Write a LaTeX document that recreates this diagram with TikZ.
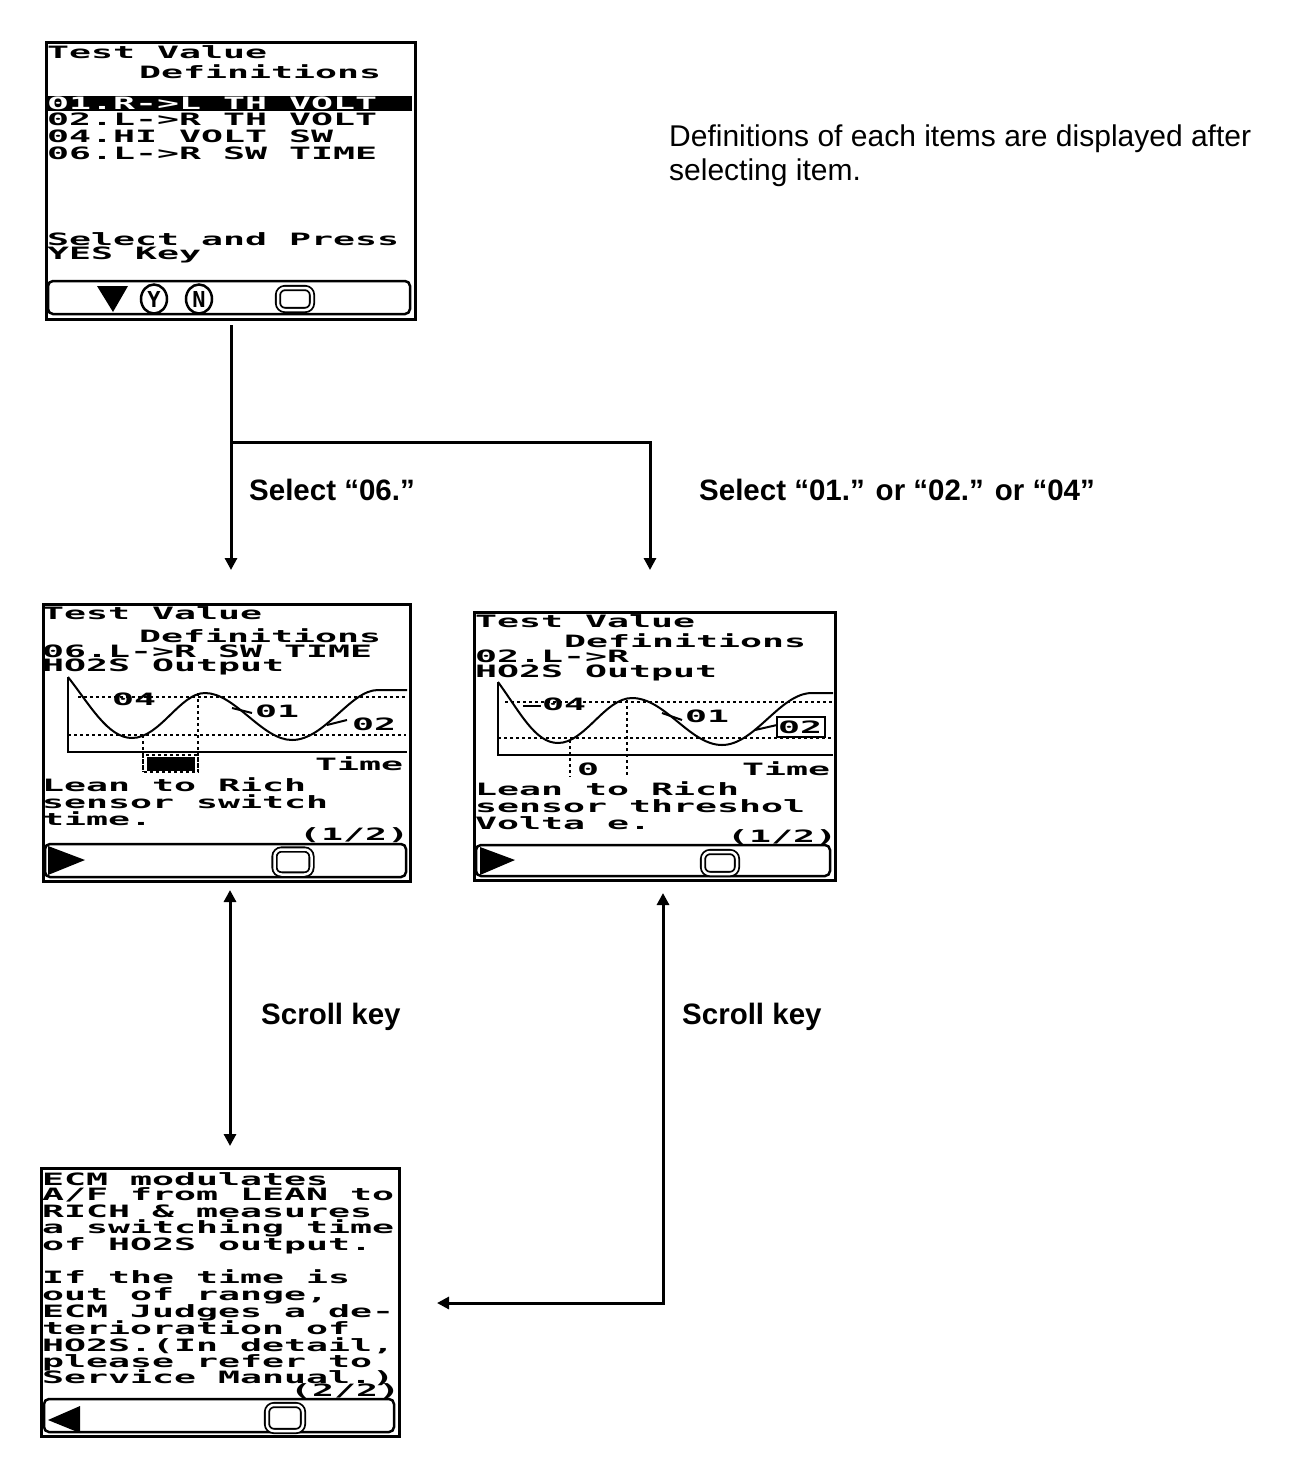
\documentclass[tikz,border=0pt]{standalone}
\usepackage{fontspec}
\usepackage{graphicx}
\setmainfont{Liberation Sans}
\newfontfamily\lcdfam{DejaVu Sans Mono}
\usetikzlibrary{arrows.meta,shapes.geometric}
\newcommand\lcd[1]{\scalebox{2.15}[1]{\lcdfam\bfseries\fontsize{17pt}{17pt}\selectfont #1}}
\tikzset{
  screen/.style={draw, line width=3pt, inner sep=0pt, anchor=north west},
  bar/.style={line width=2.5pt, rounded corners=5pt},
  lcdt/.style={anchor=base west, inner sep=0pt, outer sep=0pt},
  lbl/.style={anchor=base west, inner sep=0pt, font=\fontsize{29.5pt}{30pt}\selectfont\bfseries},
  note/.style={anchor=base west, inner sep=0pt, font=\fontsize{30pt}{35pt}\selectfont},
  arr/.style={line width=3pt, -{Triangle[width=12pt,length=12pt]}},
  darr/.style={line width=3pt, {Triangle[width=12pt,length=12pt]}-{Triangle[width=12pt,length=12pt]}},
  cbtn/.style={draw, double, double distance=2.5pt, line width=1.8pt, rounded corners=7pt,
               minimum width=34pt, minimum height=22pt, inner sep=0pt},
  rbtn/.style={draw, ellipse, line width=2.5pt, minimum width=26pt, minimum height=29pt, inner sep=0pt,
               font=\lcdfam\bfseries\fontsize{22pt}{22pt}\selectfont},
  axis/.style={line width=2.5pt},
  curve/.style={line width=2pt},
  dotln/.style={line width=2pt, dash pattern=on 3pt off 3pt},
}
\begin{document}
\begin{tikzpicture}[x=1pt,y=-1pt]
\useasboundingbox (0,0) rectangle (1312,1476);

% ---------------- Screen 1 ----------------
\node[screen, minimum width=369pt, minimum height=277pt] (s1) at (45,41) {};
\node[lcdt] (s1a) at (47,58) {\lcd{Test Value}};
\node[lcdt] (s1b) at (139,78) {\lcd{Definitions}};
\fill (47,96) rectangle (412,111);
\node[lcdt, text=white] (s1c) at (47,109) {\lcd{01.R->L TH VOLT}};
\node[lcdt] (s1d) at (47,125) {\lcd{02.L->R TH VOLT}};
\node[lcdt] (s1e) at (47,142) {\lcd{04.HI VOLT SW}};
\node[lcdt] (s1f) at (47,159) {\lcd{06.L->R SW TIME}};
\node[lcdt] (s1g) at (47,245) {\lcd{Select and Press}};
\node[lcdt] (s1h) at (47,259) {\lcd{YES Key}};
\draw[bar] (48,281) rectangle (410,314);
\fill (97,286) -- (128,286) -- (113,312) -- cycle;
\node[rbtn] (s1y) at (154,299) {Y};
\node[rbtn] (s1n) at (199,299) {N};
\node[cbtn] (s1c0) at (295,299) {};

% ---------------- Screen 2 ----------------
\node[screen, minimum width=367pt, minimum height=277pt] (s2) at (42,603) {};
\node[lcdt] (s2a) at (42,619) {\lcd{Test Value}};
\node[lcdt] (s2b) at (139,642) {\lcd{Definitions}};
\node[lcdt] (s2c) at (42,657) {\lcd{06.L->R SW TIME}};
\node[lcdt] (s2d) at (42,671) {\lcd{HO2S Output}};
\draw[axis] (68,677) -- (68,752) -- (407,752);
\draw[dotln] (78,697) -- (406,697);
\draw[dotln] (68,735) -- (406,735);
\draw[dotln] (143,735) -- (143,772);
\draw[dotln] (198,693) -- (198,772);
\draw[curve] (68,677) .. controls (90,705) and (108,738) .. (132,738)
  .. controls (160,738) and (180,693) .. (205,693)
  .. controls (235,693) and (262,740) .. (292,740)
  .. controls (325,740) and (350,690) .. (378,690) -- (407,690);
\node[lcdt] (s2g4) at (112,705) {\lcd{04}};
\draw[curve] (232,708) -- (252,713);
\node[lcdt] (s2g1) at (255,717) {\lcd{01}};
\draw[curve] (327,725) -- (347,720);
\node[lcdt] (s2g2) at (352,730) {\lcd{02}};
\fill (147,757) rectangle (195,771);
\draw[dotln, line width=1.5pt] (143,755) rectangle (198,772);
\node[lcdt] (s2t) at (315,770) {\lcd{Time}};
\node[lcdt] (s2e) at (42,791) {\lcd{Lean to Rich}};
\node[lcdt] (s2f) at (42,808) {\lcd{sensor switch}};
\node[lcdt] (s2g) at (42,825) {\lcd{time.}};
\node[lcdt] (s2h) at (299,840) {\lcd{(1/2)}};
\draw[bar] (45,844) rectangle (406,877);
\fill (48,846) -- (48,875) -- (85,860) -- cycle;
\node[cbtn, minimum width=37pt, minimum height=25pt] (s2c0) at (293,862) {};

% ---------------- Screen 3 ----------------
\node[screen, minimum width=361pt, minimum height=268pt] (s3) at (473,611) {};
\node[lcdt] (s3a) at (475,627) {\lcd{Test Value}};
\node[lcdt] (s3b) at (564,647) {\lcd{Definitions}};
\node[lcdt] (s3c) at (475,662) {\lcd{02.L->R}};
\node[lcdt] (s3d) at (475,677) {\lcd{HO2S Output}};
\draw[axis] (498,682) -- (498,755) -- (833,755);
\draw[dotln] (505,702) -- (832,702);
\draw[dotln] (498,738) -- (832,738);
\draw[dotln] (570,740) -- (570,777);
\draw[dotln] (627,700) -- (627,777);
\draw[curve] (498,682) .. controls (520,712) and (535,743) .. (558,743)
  .. controls (585,743) and (605,698) .. (632,698)
  .. controls (665,698) and (690,745) .. (722,745)
  .. controls (755,745) and (780,693) .. (812,693) -- (833,693);
\draw[curve] (523,706) -- (541,706);
\node[lcdt] (s3g4) at (542,710) {\lcd{04}};
\draw[curve] (662,713) -- (682,720);
\node[lcdt] (s3g1) at (685,722) {\lcd{01}};
\draw[curve] (755,730) -- (777,725);
\draw[line width=2pt] (777,717) rectangle (825,737);
\node[lcdt] (s3g2) at (778,733) {\lcd{02}};
\node[lcdt] (s3z) at (577,775) {\lcd{0}};
\node[lcdt] (s3t) at (742,775) {\lcd{Time}};
\node[lcdt] (s3e) at (475,795) {\lcd{Lean to Rich}};
\node[lcdt] (s3f) at (475,812) {\lcd{sensor threshol}};
\node[lcdt] (s3g) at (475,829) {\lcd{Volta e.}};
\node[lcdt] (s3h) at (727,842) {\lcd{(1/2)}};
\draw[bar] (476,845) rectangle (830,876);
\fill (480,847) -- (480,875) -- (515,860) -- cycle;
\node[cbtn] (s3c0) at (720,863) {};

% ---------------- Screen 4 ----------------
\node[screen, minimum width=358pt, minimum height=268pt] (s4) at (40,1167) {};
\node[lcdt] (s4a) at (42,1185) {\lcd{ECM modulates}};
\node[lcdt] (s4b) at (42,1200) {\lcd{A/F from LEAN to}};
\node[lcdt] (s4c) at (42,1217) {\lcd{RICH \& measures}};
\node[lcdt] (s4d) at (42,1233) {\lcd{a switching time}};
\node[lcdt] (s4e) at (42,1250) {\lcd{of HO2S output.}};
\node[lcdt] (s4f) at (42,1283) {\lcd{If the time is}};
\node[lcdt] (s4g) at (42,1300) {\lcd{out of range,}};
\node[lcdt] (s4h) at (42,1317) {\lcd{ECM Judges a de-}};
\node[lcdt] (s4i) at (42,1334) {\lcd{terioration of}};
\node[lcdt] (s4j) at (42,1351) {\lcd{HO2S.(In detail,}};
\node[lcdt] (s4k) at (42,1367) {\lcd{please refer to}};
\node[lcdt] (s4l) at (42,1383) {\lcd{Service Manual.)}};
\node[lcdt] (s4m) at (290,1396) {\lcd{(2/2)}};
\draw[bar] (44,1399) rectangle (394,1432);
\fill (48,1420) -- (80,1406) -- (80,1433) -- cycle;
\node[cbtn, minimum width=36pt, minimum height=26pt] (s4c0) at (285,1418) {};

% ---------------- Connectors ----------------
\coordinate (p1) at (231,325);
\coordinate (p2) at (231,570);
\coordinate (pb) at (231,442);
\coordinate (p3) at (650,570);
\draw[arr] (p1) -- (p2);
\draw[arr] (pb) -| (p3);
\coordinate (q1) at (230,890);
\coordinate (q2) at (230,1146);
\draw[darr] (q1) -- (q2);
\coordinate (r1) at (437,1303);
\coordinate (r2) at (663,893);
\draw[darr] (r1) -| (r2);

% ---------------- Labels ----------------
\node[lbl] (l1) at (249,500) {Select “06.”};
\node[lbl] (l2) at (699,500) {Select “01.” or “02.” or “04”};
\node[lbl] (l3) at (261,1024) {Scroll key};
\node[lbl] (l4) at (682,1024) {Scroll key};
\node[note] (n1) at (669,146) {Definitions of each items are displayed after};
\node[note] (n2) at (669,180) {selecting item.};
\end{tikzpicture}
\end{document}
